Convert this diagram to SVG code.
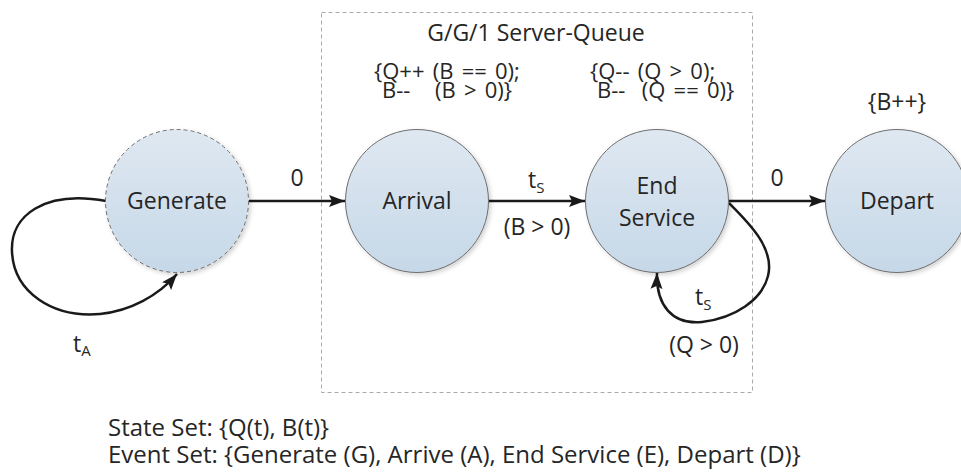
<svg xmlns="http://www.w3.org/2000/svg" width="961" height="472" viewBox="0 0 961 472">
  <defs>
    <linearGradient id="nodeFill" x1="0" y1="0" x2="0" y2="1">
      <stop offset="0" stop-color="#dfe8f1"/>
      <stop offset="1" stop-color="#c6d8e8"/>
    </linearGradient>
    <filter id="soft" x="-20%" y="-20%" width="150%" height="150%">
      <feDropShadow dx="2" dy="2" stdDeviation="2" flood-color="#000" flood-opacity="0.18"/>
    </filter>
    <marker id="arrow" viewBox="0 0 16 12" refX="16" refY="6" markerWidth="16" markerHeight="12" markerUnits="userSpaceOnUse" orient="auto">
      <path d="M0,0 L16,6 L0,12 L3,6 Z" fill="#1a1a1a"/>
    </marker>
    <style>
      text { font-family: "Open Sans", "Noto Sans", sans-serif; font-size: 23px; fill: #262626; }
      .node { fill: url(#nodeFill); stroke: #6e6e6e; stroke-width: 1; filter: url(#soft); }
      .dashed { stroke-dasharray: 4 3; }
      .edge { fill: none; stroke: #1a1a1a; stroke-width: 2.5; marker-end: url(#arrow); }
      .mid { text-anchor: middle; }
      .sub { font-size: 15px; }
      .action { font-size: 22px; word-spacing: 2.5px; }
      .legend { font-size: 24px; }
    </style>
  </defs>

  <rect width="961" height="472" fill="#ffffff"/>

  <!-- server-queue boundary -->
  <g id="server-queue">
    <rect x="321.5" y="12.5" width="431" height="380" fill="none" stroke="#aaaaaa" stroke-width="1" stroke-dasharray="4 3"/>
    <text class="mid" x="536" y="41">G/G/1 Server-Queue</text>
  </g>

  <!-- connectors -->
  <g id="connectors">
    <path class="edge" d="M106,201 C45,190 10,215 12,252 C14,292 52,318 100,314 C130,311 158,296 177,274"/>
    <path class="edge" d="M249,201 L345,201"/>
    <path class="edge" d="M489,201 L585,201"/>
    <path class="edge" d="M729,201 L825,201"/>
    <path class="edge" d="M729,203 C748,222 775,248 768,276 C762,300 735,318 702,322 C672,325 656,305 657,273"/>
    <text class="mid" x="297" y="186">0</text>
    <text class="mid" x="777" y="186">0</text>
    <text x="73" y="352">t<tspan class="sub" dy="4">A</tspan></text>
    <text x="528" y="188">t<tspan class="sub" dy="5">S</tspan></text>
    <text class="mid" x="537" y="235">(B &gt; 0)</text>
    <text x="695" y="305">t<tspan class="sub" dy="5">S</tspan></text>
    <text class="mid" x="704" y="353">(Q &gt; 0)</text>
  </g>

  <g id="generate">
    <circle class="node dashed" cx="177" cy="201" r="71.5"/>
    <text class="mid" x="177" y="209">Generate</text>
  </g>

  <g id="arrival">
    <text class="action" x="374" y="79">{Q++ (B == 0);</text>
    <text class="action" x="382" y="98" xml:space="preserve">B--   (B &gt; 0)}</text>
    <circle class="node" cx="417" cy="201" r="71.5"/>
    <text class="mid" x="417" y="209">Arrival</text>
  </g>

  <g id="end-service">
    <text class="action" x="590" y="79">{Q-- (Q &gt; 0);</text>
    <text class="action" x="597" y="98" xml:space="preserve">B--  (Q == 0)}</text>
    <circle class="node" cx="657" cy="201" r="71.5"/>
    <text class="mid" x="657" y="194">End</text>
    <text class="mid" x="657" y="226">Service</text>
  </g>

  <g id="depart">
    <text class="mid" x="897" y="110">{B++}</text>
    <circle class="node" cx="897" cy="201" r="71.5"/>
    <text class="mid" x="897" y="209">Depart</text>
  </g>

  <g id="legend">
    <text class="legend" x="108" y="436">State Set: {Q(t), B(t)}</text>
    <text class="legend" x="108" y="463">Event Set: {Generate (G), Arrive (A), End Service (E), Depart (D)}</text>
  </g>
</svg>
